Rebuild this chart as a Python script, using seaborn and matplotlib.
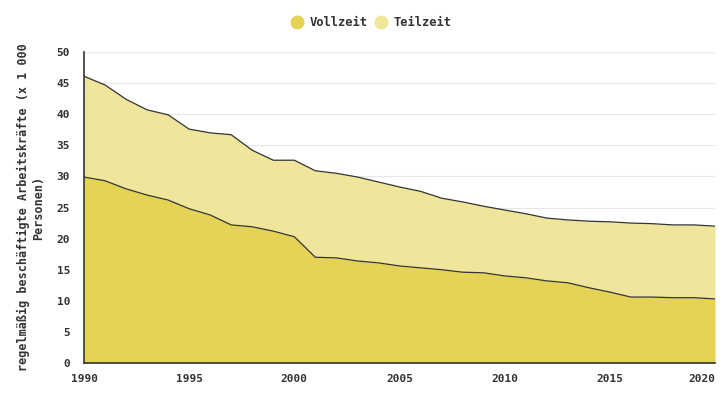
import matplotlib
matplotlib.use("Agg")
import matplotlib.pyplot as plt
import seaborn as sns
import pandas as pd
import numpy as np
from matplotlib.lines import Line2D

years = list(range(1990, 2021))
total = [46.1, 44.7, 42.4, 40.7, 39.9, 37.6, 37.0, 36.7, 34.2, 32.6,
         32.6, 30.9, 30.5, 29.9, 29.1, 28.3, 27.6, 26.5, 25.9, 25.2,
         24.6, 24.0, 23.3, 23.0, 22.8, 22.7, 22.5, 22.4, 22.2, 22.2, 22.0]
vollzeit = [29.9, 29.3, 28.0, 27.0, 26.2, 24.8, 23.8, 22.2, 21.9, 21.2,
            20.3, 17.0, 16.9, 16.4, 16.1, 15.6, 15.3, 15.0, 14.6, 14.5,
            14.0, 13.7, 13.2, 12.9, 12.1, 11.4, 10.6, 10.6, 10.5, 10.5, 10.3]
teilzeit = [round(t - v, 1) for t, v in zip(total, vollzeit)]
series_names = ["Vollzeit", "Teilzeit"]
colors = ["#e4d354", "#efe59b"]
ylabel = "regelmäßig beschäftigte Arbeitskräfte (x 1 000\nPersonen)"

sns.set_style("white")
plt.rcParams["font.family"] = ["DejaVu Sans Mono", "DejaVu Sans"]

df = pd.DataFrame({"Jahr": years, "Vollzeit": vollzeit, "Teilzeit": teilzeit})
df["Oben"] = df["Vollzeit"] + df["Teilzeit"]

fig = plt.figure(figsize=(7.25, 4.0), dpi=100)
ax = fig.add_axes([84/725, 1-363/400, (715-84)/725, (363-52)/400])

ax.fill_between(df["Jahr"], 0, df["Vollzeit"], color=colors[0], lw=0, zorder=2)
ax.fill_between(df["Jahr"], df["Vollzeit"], df["Oben"], color=colors[1], lw=0, zorder=2)
sns.lineplot(data=df, x="Jahr", y="Vollzeit", ax=ax, color="#333333", lw=0.9, zorder=3)
sns.lineplot(data=df, x="Jahr", y="Oben", ax=ax, color="#333333", lw=0.9, zorder=3)

ax.set_xlim(1990, 2020)
ax.set_ylim(0, 50)
ax.set_yticks(range(0, 51, 5))
ax.set_xticks([1990, 1995, 2000, 2005, 2010, 2015, 2020])
ax.grid(axis="y", color="#e6e6e6", lw=0.8, zorder=0)
ax.set_axisbelow(True)
for s in ["top", "right"]:
    ax.spines[s].set_visible(False)
ax.spines["left"].set_color("#333333")
ax.spines["bottom"].set_color("#333333")
ax.spines["left"].set_linewidth(1.2)
ax.spines["bottom"].set_linewidth(1.2)
ax.tick_params(axis="y", direction="out", length=8, width=1, color="#333333",
               labelsize=8, labelcolor="#333333", pad=2)
ax.tick_params(axis="x", direction="out", length=8, width=1, color="#333333",
               labelsize=8, labelcolor="#333333", pad=0)
for lab in ax.get_xticklabels() + ax.get_yticklabels():
    lab.set_fontweight("bold")
ax.get_xticklabels()[-1].set_horizontalalignment("right")
ax.set_xlabel("")
ax.set_ylabel(ylabel, fontsize=8.5, fontweight="bold", color="#333333",
              multialignment="center", labelpad=8)

handles = [Line2D([0], [0], marker="o", ls="", markersize=9, markerfacecolor=c,
                  markeredgecolor=c) for c in colors]
leg = fig.legend(handles, series_names, loc="center", bbox_to_anchor=(0.508, 1-23/400),
                 ncol=2, frameon=False, handletextpad=0.05, columnspacing=0.15,
                 prop={"weight": "bold", "size": 8.7})
for t in leg.get_texts():
    t.set_color("#333333")

fig.savefig("out.png", dpi=100)
